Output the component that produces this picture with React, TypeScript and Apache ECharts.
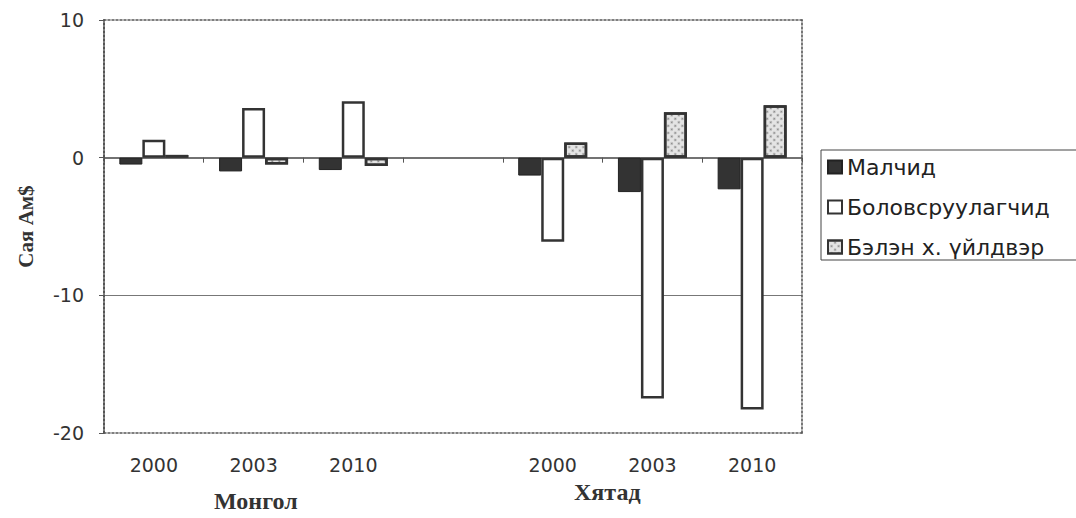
import React, { useEffect, useRef } from "react";
import * as echarts from "echarts";

// ---- data ----
const categories = ["2000", "2003", "2010", "", "2000", "2003", "2010"];
const seriesNames = ["Малчид", "Боловсруулагчид", "Бэлэн х. үйлдвэр"];
const herders = [-0.5, -1.0, -0.9, null, -1.3, -2.5, -2.3];
const processors = [1.3, 3.6, 4.1, null, -6.1, -17.5, -18.3];
const finished = [0.2, -0.5, -0.6, null, 1.1, 3.3, 3.8];
const yMin = -20;
const yMax = 10;
const yInterval = 10;
const yAxisName = "Сая Ам$";
const groupLabels = ["Монгол", "Хятад"];

const sans = "DejaVu Sans";
const serif = "Liberation Serif";

export default function App() {
  const ref = useRef<HTMLDivElement>(null);

  useEffect(() => {
    if (!ref.current) return;
    const chart = echarts.init(ref.current, null, { renderer: "svg" });
    const dotted = { color: "#555", type: [2, 2] as any, width: 1.6 };

    chart.setOption({
      animation: false,
      backgroundColor: "#fff",
      grid: { left: 104, right: 274, top: 20, bottom: 85 },
      legend: {
        orient: "vertical",
        left: 821,
        top: 150,
        itemWidth: 14,
        itemHeight: 13,
        itemGap: 18,
        padding: [6, 40, 2, 6],
        borderColor: "#444",
        borderWidth: 1,
        icon: "rect",
        data: seriesNames,
        textStyle: { fontSize: 22, fontFamily: sans, color: "#222", lineHeight: 22 },
      },
      xAxis: [
        {
          type: "category",
          data: categories,
          position: "bottom",
          axisLine: { onZero: true, lineStyle: { color: "#444", width: 1.5 } },
          axisTick: { show: true, length: 5, lineStyle: { color: "#555" } },
          axisLabel: { show: false },
          splitLine: { show: false },
        },
        {
          type: "category",
          data: categories,
          position: "bottom",
          axisLine: { onZero: false, lineStyle: dotted },
          axisTick: { show: false },
          axisLabel: { fontSize: 19, color: "#333", margin: 22, fontFamily: sans },
          splitLine: { show: false },
        },
        {
          type: "category",
          data: categories,
          position: "top",
          axisLine: { onZero: false, lineStyle: dotted },
          axisTick: { show: false },
          axisLabel: { show: false },
          splitLine: { show: false },
        },
      ],
      yAxis: [
        {
          type: "value",
          min: yMin,
          max: yMax,
          interval: yInterval,
          position: "left",
          name: yAxisName,
          nameLocation: "middle",
          nameGap: 68,
          nameTextStyle: { fontFamily: serif, fontWeight: "bold", fontSize: 21, color: "#333" },
          axisLine: { show: true, onZero: false, lineStyle: { ...dotted, width: 2 } },
          axisTick: { show: true, length: 5, lineStyle: { color: "#555" } },
          axisLabel: { fontSize: 19, color: "#333", margin: 20, fontFamily: sans },
          splitLine: {
            show: true,
            lineStyle: { color: ["transparent", "#777", "transparent", "transparent"], width: 1 },
          },
        },
        {
          type: "value",
          min: yMin,
          max: yMax,
          interval: yInterval,
          position: "right",
          axisLine: { show: true, onZero: false, lineStyle: dotted },
          axisTick: { show: false },
          axisLabel: { show: false },
          splitLine: { show: false },
        },
      ],
      series: [
        {
          name: seriesNames[0],
          type: "bar",
          xAxisIndex: 1,
          yAxisIndex: 0,
          data: herders,
          barWidth: 23,
          barGap: "0%",
          itemStyle: { color: "#333", borderColor: "#222", borderWidth: 1 },
        },
        {
          name: seriesNames[1],
          type: "bar",
          xAxisIndex: 1,
          yAxisIndex: 0,
          data: processors,
          barWidth: 23,
          barGap: "0%",
          itemStyle: { color: "#fff", borderColor: "#333", borderWidth: 2.5 },
        },
        {
          name: seriesNames[2],
          type: "bar",
          xAxisIndex: 1,
          yAxisIndex: 0,
          data: finished,
          barWidth: 23,
          barGap: "0%",
          itemStyle: {
            color: "#e4e4e4",
            borderColor: "#333",
            borderWidth: 2.5,
            decal: {
              symbol: "circle",
              symbolSize: 0.7,
              color: "rgba(60,60,60,0.6)",
              dashArrayX: [3, 2],
              dashArrayY: [3, 2],
              rotation: Math.PI / 4,
            },
          },
        },
      ],
      graphic: [
        {
          type: "text",
          left: 214,
          top: 489,
          style: { text: groupLabels[0], fontFamily: serif, fontWeight: "bold", fontSize: 24, fill: "#333" },
        },
        {
          type: "text",
          left: 574,
          top: 480,
          style: { text: groupLabels[1], fontFamily: serif, fontWeight: "bold", fontSize: 24, fill: "#333" },
        },
      ],
    });

    return () => chart.dispose();
  }, []);

  return (
    <div
      ref={ref}
      style={{ position: "absolute", left: 0, top: 0, width: 1076, height: 518, background: "#fff" }}
    />
  );
}
